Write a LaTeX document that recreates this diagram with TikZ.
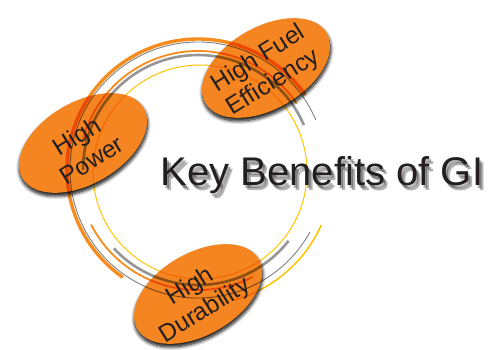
\documentclass[tikz,border=0pt]{standalone}
\usepackage{fontspec}
\setmainfont{Liberation Sans}
\usetikzlibrary{shapes,positioning,shadows.blur}

\definecolor{bubbleorange}{RGB}{244,133,32}
\definecolor{ringorange}{RGB}{246,140,30}
\definecolor{ringgray}{RGB}{128,128,128}
\definecolor{ringgraythick}{RGB}{150,150,150}
\definecolor{ringyellow}{RGB}{255,196,0}
\definecolor{textdark}{RGB}{35,31,32}

\begin{document}
\begin{tikzpicture}[x=1pt, y=-1pt, thick]

        \tikzstyle{bubble} = [draw=none, fill=bubbleorange, ellipse, minimum width=140pt, minimum height=82pt, inner sep=0pt, rotate=30, blur shadow={shadow xshift=0.5pt, shadow yshift=-3pt, shadow blur radius=3.5pt, shadow blur steps=10, shadow opacity=100}]
        \tikzstyle{bubbletext} = [text=textdark, font=\fontsize{24.5}{28}\selectfont, align=center, rotate=32, inner sep=0pt]
        \tikzstyle{title} = [text=textdark, font=\fontsize{40}{44}\selectfont, anchor=base, inner sep=0pt]

        \useasboundingbox (0,0) rectangle (492,349);

        \node [bubble] (power) at (83,143) {};
        \node [bubble] (fuel) at (266,68) {};
        \node [bubble] (durability) at (198,294) {};

        % rings round the middle
        \coordinate (c) at (198,170);
        \begin{scope}[blend mode=multiply]
            \draw [ringorange, line width=3.4pt] (c) ++(125:131) arc [start angle=125, end angle=325, radius=131];
            \draw [ringgray, line width=0.9pt] (c) ++(29:128) arc [start angle=29, end angle=337, radius=128];
            \draw [ringorange, line width=1.8pt] (c) ++(195:119) arc [start angle=195, end angle=326, radius=119];
            \draw [ringorange, line width=1.8pt] (c) ++(63:120) arc [start angle=63, end angle=153, radius=120];
            \draw [ringgraythick, line width=2.6pt] (c) ++(180:115) arc [start angle=180, end angle=337, radius=115];
            \draw [ringgraythick, line width=2.6pt] (c) ++(38:115) arc [start angle=38, end angle=137, radius=115];
            \draw [ringyellow, line width=1pt] (200,172) circle [radius=107];
            \draw [ringyellow, line width=1.5pt] (c) ++(24:135) arc [start angle=24, end angle=75, radius=135];
        \end{scope}

        \node [bubbletext] (powertext) at (84,148) {High\\Power};
        \node [bubbletext] (fueltext) at (266,71) {High Fuel\\Efficiency};
        \node [bubbletext] (durabilitytext) at (198,299) {High\\Durability};

        % soft shadow under the title
        \foreach \dx/\dy in {2/3,4/5}
            \node [title, text=black, opacity=0.3, xshift=\dx pt, yshift=-\dy pt] at (322,185) {Key Benefits of GI};
        \node [title] (title) at (322,185) {Key Benefits of GI};

\end{tikzpicture}
\end{document}
